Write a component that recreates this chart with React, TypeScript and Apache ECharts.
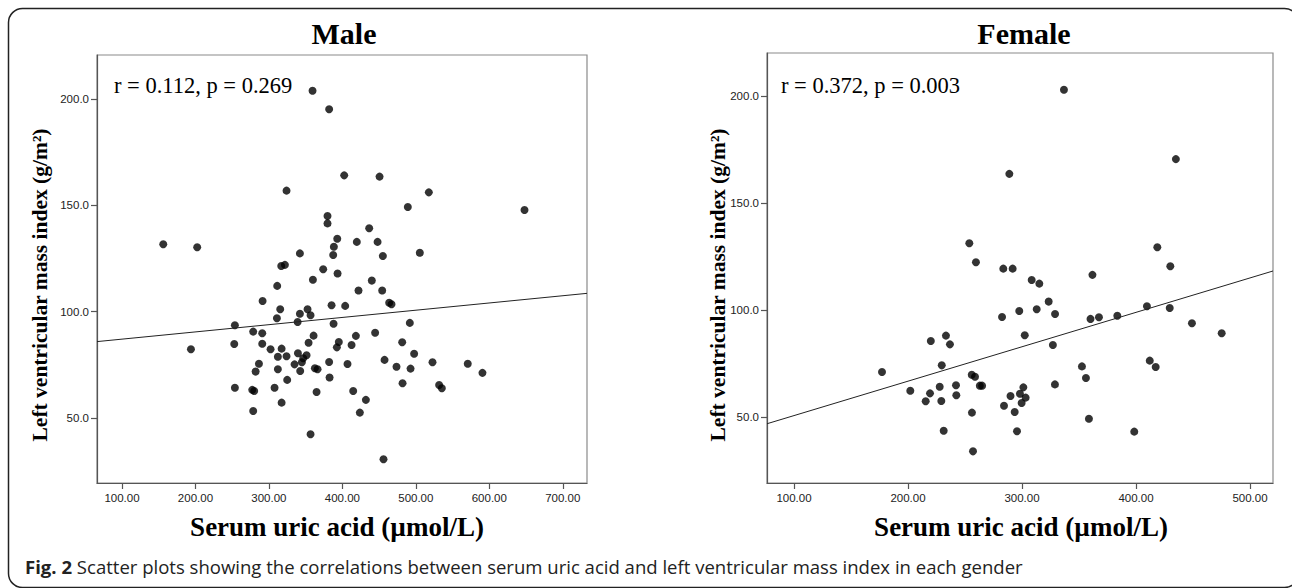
import React, { useEffect, useRef } from "react";
import * as echarts from "echarts";

// ---------- Data ----------
const maleUricAcid = [
  359.4, 382, 402.5, 450.6, 324, 379.8, 379.8, 436.5, 393, 419.7, 447.9, 156.2, 202.4, 388.4,
  517.7, 489.1, 647.9, 387.5, 455.1, 342.2, 316.8, 321.8, 373.9, 393.5, 359.9, 311.3, 440.1,
  422, 454.2, 291.4, 463.7, 466.9, 385.3, 403.8, 315.4, 352.6, 342.2, 356.7, 310.9, 339.1, 388,
  253.7, 278.6, 290.9, 444.6, 360.8, 418.4, 193.9, 252.8, 290.9, 354, 395.2, 392.5, 412.5,
  302.3, 317.3, 312.2, 324, 339.5, 351.3, 346.7, 457.4, 286.4, 334.9, 344.9, 382, 407, 281.9,
  312.2, 342.6, 362.6, 366.2, 324.9, 382.6, 253.7, 277.3, 280, 307.7, 364.9, 414.7, 432, 317.3,
  278.6, 423.8, 356.7, 456, 505.4, 491.8, 481.4, 497.7, 522.7, 570.7, 590.7, 473.7, 492.8,
  481.9, 531.7, 535.4,
];
const maleLVMI = [
  203.9, 195.2, 164.1, 163.5, 156.9, 145, 141.5, 139.2, 134.3, 132.8, 132.8, 131.7, 130.3, 130.5,
  156.1, 149.2, 147.8, 126.6, 126.2, 127.4, 121.5, 122, 119.9, 117.9, 115, 112.1, 114.6,
  109.9, 109.9, 105, 104.2, 103.5, 103, 102.7, 101.1, 101.1, 99, 98.3, 96.9, 95.1, 94.3,
  93.6, 90.6, 89.8, 90.1, 88.7, 88.6, 82.3, 84.8, 84.9, 85.4, 85.7, 83.2, 84.3,
  82.3, 82.6, 78.8, 79, 80.4, 79.5, 78.1, 77.3, 75.5, 75.2, 76.2, 76.3, 75.4, 71.8,
  72.9, 72.1, 73.4, 72.9, 67.9, 69, 64.2, 63.2, 62.7, 64.2, 62.2, 62.7, 58.5, 57.2,
  53.3, 52.5, 42.3, 30.6, 127.7, 94.7, 85.6, 80.2, 76.2, 75.5, 71.2, 74.1, 73.2,
  66.3, 65.5, 64,
];
const femaleUricAcid = [
  288.9, 253.8, 336.8, 435, 418.7, 259.6, 283.6, 291.8, 308.5, 315.2, 323.4, 282.5, 297.6, 312.9,
  302.4, 220, 233.3, 236.8, 177.2, 229.6, 255.9, 258.8, 263, 265, 202, 227.8, 242.1, 219.3,
  215.5, 229.2, 242.4, 256.1, 231.3, 257, 301.2, 289.9, 298.2, 303.2, 299.7, 284.2, 293.6,
  295.6, 329, 327.1, 361.8, 360.1, 367.5, 383.6, 409.6, 429.6, 430.1, 449.1, 475.2, 352.6,
  356.1, 328.9, 412.1, 417.3, 358.7, 398.5,
];
const femaleLVMI = [
  163.8, 131.4, 203.1, 170.7, 129.5, 122.5, 119.5, 119.5, 114.2, 112.5, 104.1, 96.9, 99.7, 100.5,
  88.4, 85.7, 88.2, 84.1, 71.2, 74.3, 69.9, 69, 64.8, 64.8, 62.4, 64.3, 65, 61.2,
  57.5, 57.6, 60.3, 52.2, 43.7, 34.1, 64, 60, 61, 59.2, 56.7, 55.4, 52.5,
  43.5, 98.3, 83.8, 116.6, 96, 96.8, 97.5, 101.9, 101.1, 120.6, 94, 89.3, 73.8,
  68.4, 65.4, 76.5, 73.5, 49.3, 43.3,
];
// Fit lines: endpoints at the axis edges
const maleFitX = [66, 733];
const maleFitY = [85.9, 108.6];
const femaleFitX = [76.3, 520.2];
const femaleFitY = [47.0, 118.4];

const maleXTicks = [100, 200, 300, 400, 500, 600, 700];
const femaleXTicks = [100, 200, 300, 400, 500];
const lvmiTicks = [50, 100, 150, 200];

const titles = ["Male", "Female"];
const statsText = ["r = 0.112, p = 0.269", "r = 0.372, p = 0.003"];
const xAxisTitle = "Serum uric acid (\u00b5mol/L)";
const yAxisTitle = "Left ventricular mass index (g/m\u00b2)";
const captionBold = "Fig. 2";
const captionText =
  " Scatter plots showing the correlations between serum uric acid and left ventricular mass index in each gender";

const SERIF = "'Liberation Serif', 'Times New Roman', serif";
const SANS = "'Liberation Sans', Arial, sans-serif";

function pairs(xs: number[], ys: number[]) {
  return xs.map((x, i) => [x, ys[i]]);
}

export default function App() {
  const ref = useRef<HTMLDivElement>(null);
  useEffect(() => {
    if (!ref.current) return;
    const chart = echarts.init(ref.current, null, { renderer: "svg" });
    const axisLineStyle = { color: "#555", width: 1.2 };
    const mkX = (gi: number, min: number, max: number, ticks: number[]) => ({
      type: "value",
      gridIndex: gi,
      min,
      max,
      axisLine: { show: true, onZero: false, lineStyle: axisLineStyle },
      axisTick: { show: true, length: 6, customValues: ticks, lineStyle: axisLineStyle },
      axisLabel: {
        customValues: ticks,
        formatter: (v: number) => v.toFixed(2),
        fontSize: 11.5,
        color: "#222",
        margin: 9,
        fontFamily: SANS,
      },
      splitLine: { show: false },
    });
    const mkY = (gi: number, min: number, max: number) => ({
      type: "value",
      gridIndex: gi,
      min,
      max,
      axisLine: { show: true, onZero: false, lineStyle: axisLineStyle },
      axisTick: { show: true, length: 6, customValues: lvmiTicks, lineStyle: axisLineStyle },
      axisLabel: {
        customValues: lvmiTicks,
        formatter: (v: number) => v.toFixed(1),
        fontSize: 11.5,
        color: "#222",
        margin: 8,
        fontFamily: SANS,
      },
      splitLine: { show: false },
    });
    chart.setOption({
      animation: false,
      backgroundColor: "#fff",
      grid: [
        { left: 97, top: 55, width: 490, height: 428, show: true, borderColor: "#8a8a8a", borderWidth: 1.2 },
        { left: 767, top: 53, width: 506, height: 430, show: true, borderColor: "#8a8a8a", borderWidth: 1.2 },
      ],
      xAxis: [mkX(0, 66, 733, maleXTicks), mkX(1, 76.3, 520.2, femaleXTicks)],
      yAxis: [mkY(0, 19.4, 220.7), mkY(1, 19.3, 220.3)],
      series: [
        {
          type: "scatter",
          xAxisIndex: 0,
          yAxisIndex: 0,
          data: pairs(maleUricAcid, maleLVMI),
          symbolSize: 8,
          itemStyle: { color: "#000" },
        },
        {
          type: "line",
          xAxisIndex: 0,
          yAxisIndex: 0,
          data: pairs(maleFitX, maleFitY),
          symbol: "none",
          lineStyle: { color: "#222", width: 1 },
        },
        {
          type: "scatter",
          xAxisIndex: 1,
          yAxisIndex: 1,
          data: pairs(femaleUricAcid, femaleLVMI),
          symbolSize: 8,
          itemStyle: { color: "#000" },
        },
        {
          type: "line",
          xAxisIndex: 1,
          yAxisIndex: 1,
          data: pairs(femaleFitX, femaleFitY),
          symbol: "none",
          lineStyle: { color: "#222", width: 1 },
        },
      ],
      graphic: [
        {
          type: "rect",
          shape: { x: 8.5, y: 8.5, width: 1290, height: 579, r: 14 },
          style: { fill: "none", stroke: "#222", lineWidth: 1.5 },
          silent: true,
        },
        {
          type: "text",
          x: 344,
          y: 33,
          style: { text: titles[0], font: `bold 30px ${SERIF}`, fill: "#000", align: "center", verticalAlign: "middle" },
        },
        {
          type: "text",
          x: 1024,
          y: 33,
          style: { text: titles[1], font: `bold 30px ${SERIF}`, fill: "#000", align: "center", verticalAlign: "middle" },
        },
        {
          type: "text",
          x: 114,
          y: 85,
          style: { text: statsText[0], font: `22.5px ${SERIF}`, fill: "#000", align: "left", verticalAlign: "middle" },
        },
        {
          type: "text",
          x: 781,
          y: 85,
          style: { text: statsText[1], font: `22.5px ${SERIF}`, fill: "#000", align: "left", verticalAlign: "middle" },
        },
        {
          type: "text",
          x: 337,
          y: 527,
          style: { text: xAxisTitle, font: `bold 27px ${SERIF}`, fill: "#000", align: "center", verticalAlign: "middle" },
        },
        {
          type: "text",
          x: 1021,
          y: 527,
          style: { text: xAxisTitle, font: `bold 27px ${SERIF}`, fill: "#000", align: "center", verticalAlign: "middle" },
        },
        {
          type: "text",
          x: 40,
          y: 285,
          rotation: Math.PI / 2,
          style: { text: yAxisTitle, font: `bold 21.5px ${SERIF}`, fill: "#000", align: "center", verticalAlign: "middle" },
        },
        {
          type: "text",
          x: 718,
          y: 285,
          rotation: Math.PI / 2,
          style: { text: yAxisTitle, font: `bold 21.5px ${SERIF}`, fill: "#000", align: "center", verticalAlign: "middle" },
        },
        {
          type: "text",
          x: 25,
          y: 567,
          scaleX: 1.06,
          style: {
            text: `{b|${captionBold}}{n|${captionText}}`,
            fill: "#222",
            align: "left",
            verticalAlign: "middle",
            rich: {
              b: { fontFamily: "'Open Sans', sans-serif", fontWeight: "bold", fontSize: 17.5, fill: "#222" },
              n: { fontFamily: "'Open Sans', sans-serif", fontSize: 17.5, fill: "#222" },
            },
          },
        },
      ],
    });
    return () => chart.dispose();
  }, []);
  return (
    <div
      ref={ref}
      style={{ position: "absolute", left: 0, top: 0, width: 1292, height: 588 }}
    />
  );
}
